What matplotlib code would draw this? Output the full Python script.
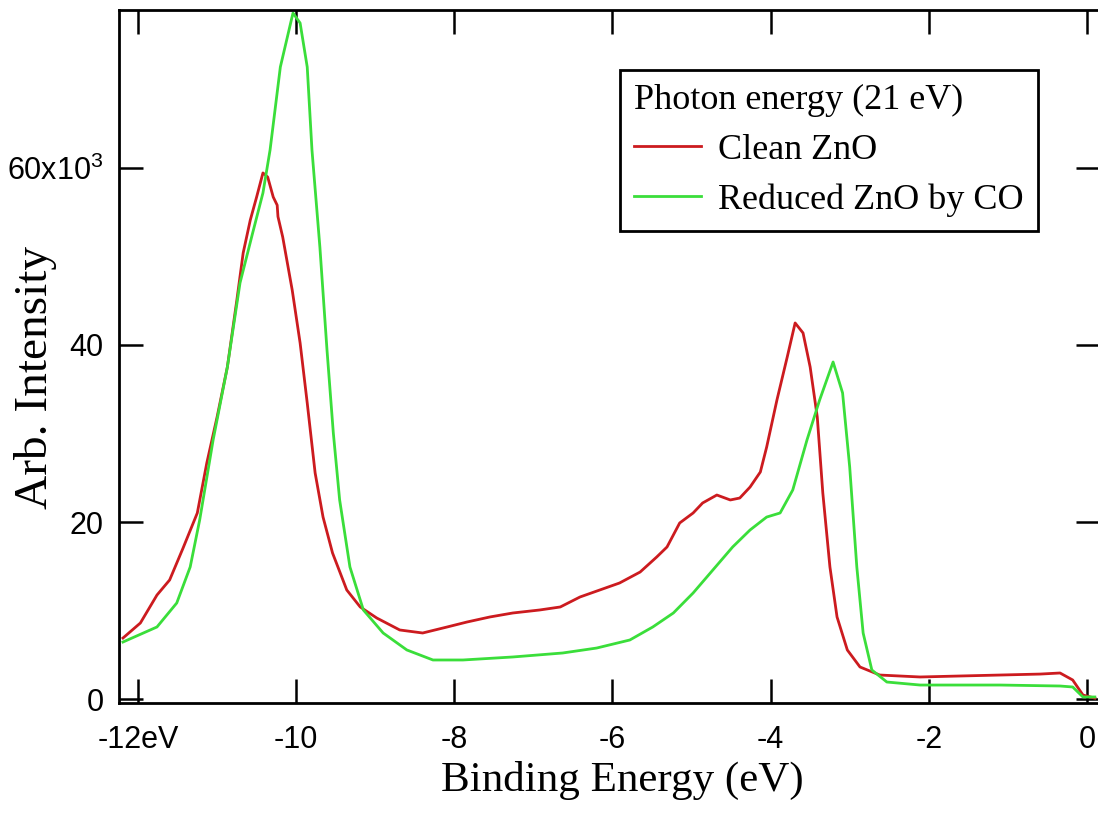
#UPS spectra of clean and CO-reduced ZnO (He I, 21 eV)
#values, binding energy in eV, intensity in counts
import matplotlib
matplotlib.use('Agg')
import matplotlib.pyplot as plt

plt.rcParams['font.family'] = 'Liberation Sans'
plt.rcParams['mathtext.default'] = 'regular'

#clean ZnO
clean_be = [-12.19, -11.97, -11.76, -11.60, -11.43, -11.25, -11.13, -11.00, -10.87,
            -10.75, -10.67, -10.58, -10.50, -10.42, -10.36, -10.29, -10.24, -10.23,
            -10.17, -10.05, -9.95, -9.86, -9.76, -9.66, -9.54, -9.36, -9.19, -8.98,
            -8.69, -8.40, -8.09, -7.84, -7.55, -7.26, -6.92, -6.66, -6.41, -6.16,
            -5.91, -5.65, -5.44, -5.31, -5.15, -4.98, -4.86, -4.68, -4.51, -4.39,
            -4.26, -4.13, -4.05, -3.92, -3.79, -3.69, -3.59, -3.50, -3.41, -3.34,
            -3.25, -3.16, -3.03, -2.87, -2.62, -2.11, -1.61, -1.10, -0.59, -0.34,
            -0.18, -0.05, 0.10]
clean_int = [6.89, 8.59, 11.75, 13.45, 17.06, 21.02, 26.67, 31.86, 37.51,
             45.08, 50.40, 54.12, 56.72, 59.44, 58.98, 56.72, 55.8, 54.5,
             52.20, 46.21, 40.23, 33.45, 25.54, 20.56, 16.50, 12.32, 10.40, 9.15,
             7.80, 7.46, 8.14, 8.70, 9.27, 9.72, 10.06, 10.40, 11.53, 12.32,
             13.11, 14.35, 16.05, 17.18, 19.89, 21.02, 22.15, 23.05, 22.49, 22.71,
             23.95, 25.65, 28.47, 33.79, 38.64, 42.49, 41.36, 37.51, 31.86, 23.28,
             14.92, 9.27, 5.54, 3.62, 2.71, 2.49, 2.60, 2.71, 2.82, 2.94,
             2.15, 0.45, 0.10]

#ZnO reduced by CO
reduced_be = [-12.19, -11.76, -11.51, -11.34, -11.22, -11.05, -10.87, -10.71, -10.55,
              -10.42, -10.33, -10.20, -10.12, -10.04, -9.95, -9.86, -9.80, -9.70,
              -9.61, -9.53, -9.45, -9.32, -9.15, -8.90, -8.60, -8.27, -7.89, -7.26,
              -6.63, -6.20, -5.78, -5.49, -5.23, -4.98, -4.73, -4.48, -4.26, -4.05,
              -3.88, -3.72, -3.54, -3.38, -3.21, -3.09, -3.00, -2.91, -2.83, -2.72,
              -2.53, -2.11, -1.10, -0.34, -0.18, -0.05, 0.10]
reduced_int = [6.44, 8.14, 10.85, 14.92, 20.23, 29.27, 37.51, 47.01, 52.66,
               57.18, 62.03, 71.41, 74.46, 77.51, 76.38, 71.41, 62.03, 51.07,
               39.44, 30.06, 22.49, 14.92, 10.06, 7.46, 5.54, 4.41, 4.41, 4.75,
               5.20, 5.76, 6.67, 8.14, 9.72, 11.98, 14.58, 17.18, 19.10, 20.56,
               21.02, 23.62, 29.27, 33.79, 38.08, 34.58, 26.21, 14.92, 7.46, 3.28,
               1.92, 1.58, 1.58, 1.47, 1.36, 0.23, 0.23]

x_ticks = [-12, -10, -8, -6, -4, -2, 0]
x_ticklabels = ['-12eV', '-10', '-8', '-6', '-4', '-2', '0']
y_ticks = [0, 20e3, 40e3, 60e3]
y_ticklabels = ['0', '20', '40', '60x10$^{3}$']

fig = plt.figure(figsize=(10.98, 8.13), dpi=100)
ax = fig.add_axes([0.1084, 0.1353, 0.8934, 0.8524])

ax.plot(clean_be, [v * 1e3 for v in clean_int], color='#cc1b1f', lw=2.0,
        label='Clean ZnO')
ax.plot(reduced_be, [v * 1e3 for v in reduced_int], color='#3ade3a', lw=2.0,
        label='Reduced ZnO by CO')

ax.set_xlim(-12.24, 0.165)
ax.set_ylim(-450, 77850)
ax.set_xticks(x_ticks)
ax.set_xticklabels(x_ticklabels)
ax.set_yticks(y_ticks)
ax.set_yticklabels(y_ticklabels)

for s in ax.spines.values():
    s.set_linewidth(2.0)
ax.tick_params(direction='in', top=True, right=True, length=17, width=1.8,
               labelsize=22)
ax.tick_params(axis='x', pad=16)
ax.tick_params(axis='y', pad=11)

ax.set_xlabel('Binding Energy (eV)', family='Liberation Serif', fontsize=31)
ax.xaxis.set_label_coords(0.513, -0.083)
ax.set_ylabel('Arb. Intensity', family='Liberation Serif', fontsize=34)
ax.yaxis.set_label_coords(-0.063, 0.47)

leg = ax.legend(title='Photon energy (21 eV)', loc='upper left',
                bbox_to_anchor=(0.5647, 0.9139), bbox_transform=fig.transFigure,
                borderaxespad=0, fancybox=False, edgecolor='black',
                framealpha=1, alignment='left',
                prop={'family': 'Liberation Serif', 'size': 26},
                title_fontproperties={'family': 'Liberation Serif', 'size': 26},
                handlelength=1.85, handletextpad=0.45, labelspacing=0.45,
                borderpad=0.4)
leg.get_frame().set_linewidth(2.0)

fig.savefig('out.png', dpi=100)
